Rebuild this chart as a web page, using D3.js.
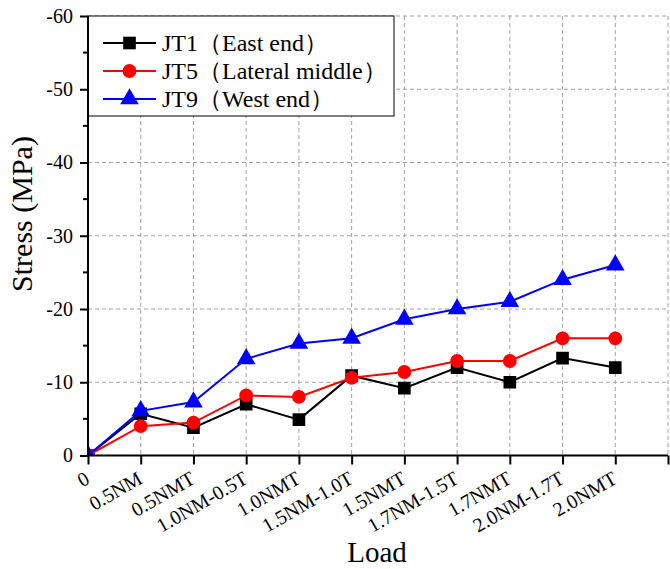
<!DOCTYPE html>
<html>
<head>
<meta charset="utf-8">
<script src="https://cdn.jsdelivr.net/npm/d3@7/dist/d3.min.js"></script>
<style>
  html, body { margin: 0; padding: 0; background: #fff; }
  svg { display: block; }
  text { font-family: "Liberation Serif", "Times New Roman", serif; fill: #000; }
</style>
</head>
<body>
<svg id="chart" width="670" height="569"></svg>
<script>
// Load steps along the x axis
const loads = ["0", "0.5NM", "0.5NMT", "1.0NM-0.5T", "1.0NMT", "1.5NM-1.0T",
               "1.5NMT", "1.7NM-1.5T", "1.7NMT", "2.0NM-1.7T", "2.0NMT"];

// Stress readings (MPa) at each load step
const jt1 = [0, -5.7, -3.8, -7.0, -4.9, -10.9, -9.2, -12.0, -10.0, -13.3, -12.0];
const jt5 = [0, -4.0, -4.5, -8.2, -8.0, -10.6, -11.4, -12.9, -12.9, -16.0, -16.0];
const jt9 = [0, -6.1, -7.3, -13.2, -15.3, -16.0, -18.6, -20.0, -21.0, -24.0, -26.0];

// Legend labels: gauge id and its location (shown in full-width brackets)
const seriesIds = ["JT1", "JT5", "JT9"];
const seriesPlaces = ["East end", "Lateral middle", "West end"];
const seriesColors = ["#000000", "#ff0000", "#0000ff"];
const seriesSymbols = [d3.symbolSquare, d3.symbolCircle, d3.symbolTriangle];
const seriesSizes = [160, 150, 150];

const yTicks = [0, -10, -20, -30, -40, -50, -60];
const yMinor = [-5, -15, -25, -35, -45, -55];

const svg = d3.select("#chart");
const pLeft = 88, pRight = 668, pTop = 16, pBottom = 455.5;

const x = d3.scaleLinear().domain([0, 11]).range([pLeft, pRight]);
const y = d3.scaleLinear().domain([0, -60]).range([pBottom, pTop]);

// dashed grid
const grid = svg.append("g").attr("stroke", "#a0a0a0").attr("stroke-width", 1)
  .attr("stroke-dasharray", "4,3").attr("fill", "none");
grid.selectAll("line.v").data(d3.range(1, 12)).join("line")
  .attr("class", "v")
  .attr("x1", d => x(d)).attr("x2", d => x(d))
  .attr("y1", pTop).attr("y2", pBottom);
grid.selectAll("line.h").data(yTicks.filter(d => d !== 0)).join("line")
  .attr("class", "h")
  .attr("x1", pLeft).attr("x2", pRight)
  .attr("y1", d => y(d)).attr("y2", d => y(d));

// legend background box (covers the grid)
const legend = svg.append("g");
legend.append("rect").attr("x", pLeft).attr("y", pTop).attr("width", 306).attr("height", 100)
  .attr("fill", "#fff").attr("stroke", "#000").attr("stroke-width", 1);

// clip for marks
svg.append("clipPath").attr("id", "plotClip").append("rect")
  .attr("x", pLeft).attr("y", pTop).attr("width", pRight - pLeft + 8).attr("height", pBottom - pTop);

const plot = svg.append("g").attr("clip-path", "url(#plotClip)");
const line = d3.line().x((d, i) => x(i)).y(d => y(d));

[jt1, jt5, jt9].forEach((vals, k) => {
  const g = plot.append("g");
  g.append("path").datum(vals).attr("d", line)
    .attr("fill", "none").attr("stroke", seriesColors[k]).attr("stroke-width", 2);
  g.selectAll("path.m").data(vals).join("path")
    .attr("class", "m")
    .attr("transform", (d, i) => `translate(${x(i)},${y(d)})`)
    .attr("d", d3.symbol().type(seriesSymbols[k]).size(seriesSizes[k]))
    .attr("fill", seriesColors[k]);
});

// y axis
const yAxis = svg.append("g").attr("transform", `translate(${pLeft},0)`)
  .call(d3.axisLeft(y).tickValues(yTicks).tickSize(8).tickPadding(7).tickFormat(d => String(d)));
yAxis.select(".domain").attr("stroke-width", 2).attr("d", `M0,${pBottom}V${pTop}`);
yAxis.selectAll(".tick line").attr("stroke-width", 2);
yAxis.selectAll(".tick text").attr("font-size", 20).attr("font-family", "Liberation Serif");
yAxis.append("g").selectAll("line").data(yMinor).join("line")
  .attr("x1", -5).attr("x2", 0).attr("y1", d => y(d)).attr("y2", d => y(d))
  .attr("stroke", "#000").attr("stroke-width", 2);

// x axis
const xAxis = svg.append("g").attr("transform", `translate(0,${pBottom})`)
  .call(d3.axisBottom(x).tickValues(d3.range(0, 12)).tickSize(9).tickFormat(""));
xAxis.select(".domain").attr("stroke-width", 2).attr("d", `M${pLeft},0H${pRight}`);
xAxis.selectAll(".tick line").attr("stroke-width", 2);

svg.append("g").selectAll("text").data(loads).join("text")
  .attr("transform", (d, i) => `translate(${x(i) + 3},${pBottom + 27}) rotate(-30)`)
  .attr("text-anchor", "end")
  .attr("font-size", 20).text(d => d);

// axis titles
svg.append("text").attr("transform", `translate(32,214) rotate(-90)`)
  .attr("text-anchor", "middle").attr("font-size", 30).text("Stress (MPa)");
svg.append("text").attr("x", 377).attr("y", 562)
  .attr("text-anchor", "middle").attr("font-size", 29).text("Load");

// legend entries; each full-width bracket occupies one em
const fs = 24;
seriesIds.forEach((id, k) => {
  const cy = 43 + k * 28;
  legend.append("line").attr("x1", 103).attr("x2", 156).attr("y1", cy).attr("y2", cy)
    .attr("stroke", seriesColors[k]).attr("stroke-width", 2);
  legend.append("path").attr("transform", `translate(129.5,${cy})`)
    .attr("d", d3.symbol().type(seriesSymbols[k]).size(seriesSizes[k]))
    .attr("fill", seriesColors[k]);

  let cx = 162;
  const idText = legend.append("text").attr("x", cx).attr("y", cy).attr("dy", "0.34em")
    .attr("font-size", fs).text(id);
  cx += idText.node().getComputedTextLength();
  legend.append("text").attr("x", cx + fs).attr("y", cy).attr("dy", "0.34em")
    .attr("text-anchor", "end").attr("font-family", "Noto Sans CJK SC")
    .attr("font-size", fs).text("\uFF08");
  cx += fs;
  const placeText = legend.append("text").attr("x", cx).attr("y", cy).attr("dy", "0.34em")
    .attr("font-size", fs).text(seriesPlaces[k]);
  cx += placeText.node().getComputedTextLength();
  legend.append("text").attr("x", cx).attr("y", cy).attr("dy", "0.34em")
    .attr("font-family", "Noto Sans CJK SC")
    .attr("font-size", fs).text("\uFF09");
});
</script>
</body>
</html>
